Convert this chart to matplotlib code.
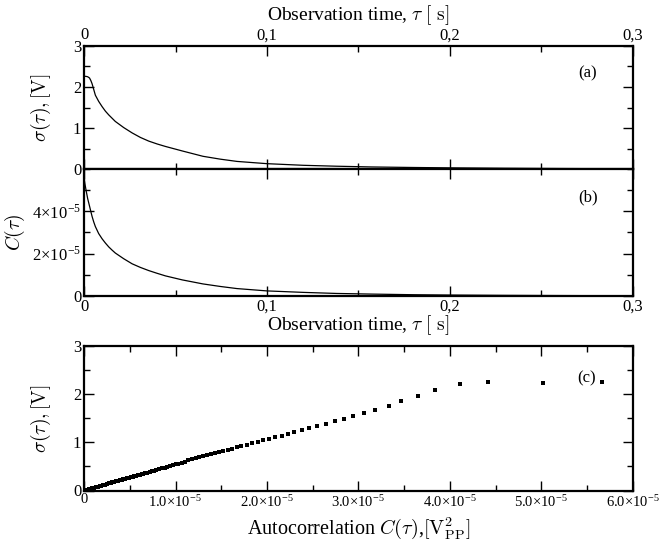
import numpy as np
import matplotlib
matplotlib.use('Agg')
import matplotlib.pyplot as plt
from matplotlib.ticker import MultipleLocator, FixedLocator

plt.rcParams['font.family'] = 'serif'
plt.rcParams['font.serif'] = ['Liberation Serif', 'DejaVu Serif']
plt.rcParams['mathtext.fontset'] = 'cm'

# panels (a) and (b): observation time [s], sigma [V], autocorrelation [1e-5 V^2]
tau = [0, 0.0005, 0.001, 0.002, 0.003, 0.0037, 0.0044, 0.0053, 0.0062, 0.008,
       0.0099, 0.0117, 0.0135, 0.0153, 0.0171, 0.0217, 0.0263, 0.0308, 0.0354,
       0.04, 0.0445, 0.0537, 0.065, 0.0745, 0.0836, 0.1, 0.12, 0.138, 0.157,
       0.18, 0.2, 0.23, 0.26, 0.3]
sigma_tau = [2.26, 2.26, 2.26, 2.25, 2.22, 2.16, 2.08, 1.94, 1.80, 1.65,
             1.52, 1.41, 1.32, 1.24, 1.16, 1.01, 0.88, 0.77, 0.68,
             0.61, 0.55, 0.44, 0.31, 0.24, 0.185, 0.13, 0.09, 0.068, 0.05,
             0.037, 0.028, 0.018, 0.011, 0.005]
c_tau = [5.60, 5.30, 5.05, 4.60, 4.25, 4.00, 3.76, 3.50, 3.28, 2.95,
         2.70, 2.50, 2.32, 2.17, 2.03, 1.76, 1.52, 1.35, 1.20,
         1.07, 0.95, 0.76, 0.57, 0.45, 0.35, 0.24, 0.17, 0.12, 0.09,
         0.06, 0.045, 0.03, 0.02, 0.01]

# panel (c): sigma versus autocorrelation, individual samples
c_pts = [5.66, 5.02, 4.42, 4.11, 3.84, 3.65, 3.46, 3.33, 3.18, 3.06, 2.94, 2.84,
         2.74, 2.64, 2.55, 2.46, 2.38, 2.30, 2.23, 2.16, 2.09, 2.02, 1.96, 1.90,
         1.84, 1.78, 1.72, 1.67, 1.62, 1.57, 1.52, 1.48, 1.43, 1.39, 1.34, 1.30,
         1.26, 1.22, 1.18, 1.14, 1.10, 1.07, 1.03, 1.00, 0.97, 0.94, 0.91, 0.88,
         0.85, 0.82, 0.79, 0.77, 0.74, 0.72, 0.69, 0.67, 0.65, 0.63, 0.61, 0.59,
         0.57, 0.55, 0.53, 0.51, 0.49, 0.47, 0.45, 0.43, 0.41, 0.39, 0.37, 0.35,
         0.33, 0.31, 0.29, 0.27, 0.25, 0.23, 0.21, 0.19, 0.17, 0.15, 0.13, 0.11,
         0.09, 0.07, 0.05, 0.03, 0.01, 0.0]
sigma_pts = [2.25, 2.23, 2.25, 2.21, 2.08, 1.96, 1.85, 1.75, 1.67, 1.60, 1.54, 1.49,
             1.44, 1.39, 1.34, 1.29, 1.26, 1.22, 1.18, 1.14, 1.11, 1.07, 1.04, 1.01,
             0.98, 0.95, 0.93, 0.90, 0.87, 0.84, 0.82, 0.80, 0.78, 0.75, 0.73, 0.71,
             0.69, 0.67, 0.65, 0.63, 0.60, 0.58, 0.56, 0.54, 0.52, 0.51, 0.49, 0.47,
             0.46, 0.44, 0.42, 0.41, 0.40, 0.38, 0.37, 0.36, 0.35, 0.34, 0.33, 0.32,
             0.31, 0.30, 0.29, 0.28, 0.26, 0.25, 0.24, 0.23, 0.22, 0.21, 0.20, 0.19,
             0.18, 0.17, 0.16, 0.15, 0.14, 0.12, 0.11, 0.10, 0.09, 0.08, 0.07, 0.06,
             0.05, 0.04, 0.03, 0.02, 0.01, 0.0]

time_ticks = [0, 0.1, 0.2, 0.3]
time_labels = ['0', '0,1', '0,2', '0,3']
c_ticks = [0, 2e-5, 4e-5]
c_labels = ['0', r'2×10$^{\mathregular{-5}}$', r'4×10$^{\mathregular{-5}}$']
cx_ticks = [0, 1e-5, 2e-5, 3e-5, 4e-5, 5e-5, 6e-5]
cx_labels = ['0'] + [r'%d.0×10$^{\mathregular{-5}}$' % k for k in range(1, 7)]

tau = np.array(tau)
sigma_tau = np.array(sigma_tau)
c_tau = np.array(c_tau) * 1e-5
c_pts = np.array(c_pts) * 1e-5
sigma_pts = np.array(sigma_pts)

fig = plt.figure(figsize=(6.59, 5.45), dpi=100)
L, W = 0.1275, 0.833
ax_a = fig.add_axes([L, 0.6899, W, 0.2257])
ax_b = fig.add_axes([L, 0.4569, W, 0.2330])
ax_c = fig.add_axes([L, 0.1000, W, 0.2651])


def style(ax):
    for s in ax.spines.values():
        s.set_linewidth(1.6)
    ax.tick_params(which='both', direction='in', top=True, right=True,
                   labelsize=12, width=1.0, pad=2)
    ax.tick_params(which='major', length=7.5)
    ax.tick_params(which='minor', length=4.5)


# (a)
ax_a.plot(tau, sigma_tau, color='black', lw=0.9)
ax_a.set_xlim(0, 0.3)
ax_a.set_ylim(0, 3)
style(ax_a)
ax_a.xaxis.set_major_locator(FixedLocator(time_ticks))
ax_a.set_xticklabels(time_labels)
ax_a.xaxis.set_minor_locator(MultipleLocator(0.05))
ax_a.yaxis.set_major_locator(MultipleLocator(1))
ax_a.yaxis.set_minor_locator(MultipleLocator(0.5))
ax_a.tick_params(axis='x', labeltop=True, labelbottom=False)
ax_a.xaxis.set_label_position('top')
ax_a.set_xlabel(r'Observation time, $\tau\ [\ \mathrm{s}]$', fontsize=14, labelpad=5)
ax_a.set_ylabel(r'$\sigma(\tau),[\mathrm{V}]$', fontsize=14, labelpad=14)
ax_a.text(0.918, 0.78, '(a)', transform=ax_a.transAxes, ha='center', va='center', fontsize=12)

# (b)
ax_b.plot(tau, c_tau, color='black', lw=0.9)
ax_b.set_xlim(0, 0.3)
ax_b.set_ylim(0, 6e-5)
style(ax_b)
ax_b.xaxis.set_major_locator(FixedLocator(time_ticks))
ax_b.set_xticklabels(time_labels)
ax_b.xaxis.set_minor_locator(MultipleLocator(0.05))
ax_b.yaxis.set_major_locator(FixedLocator(c_ticks))
ax_b.set_yticklabels(c_labels)
ax_b.yaxis.set_minor_locator(MultipleLocator(1e-5))
ax_b.set_xlabel(r'Observation time, $\tau\ [\ \mathrm{s}]$', fontsize=14, labelpad=-1)
ax_b.set_ylabel(r'$C(\tau)$', fontsize=14, labelpad=4)
ax_b.text(0.918, 0.78, '(b)', transform=ax_b.transAxes, ha='center', va='center', fontsize=12)

# (c)
ax_c.plot(c_pts, sigma_pts, 's', color='black', markersize=2.2, markeredgewidth=0)
ax_c.set_xlim(0, 6e-5)
ax_c.set_ylim(0, 3)
style(ax_c)
ax_c.tick_params(axis='x', labelsize=10.5)
ax_c.xaxis.set_major_locator(FixedLocator(cx_ticks))
ax_c.set_xticklabels(cx_labels)
ax_c.xaxis.set_minor_locator(MultipleLocator(0.5e-5))
ax_c.yaxis.set_major_locator(MultipleLocator(1))
ax_c.yaxis.set_minor_locator(MultipleLocator(0.5))
ax_c.set_xlabel(r'Autocorrelation $C(\tau)$,$[\mathrm{V}_{\mathrm{PP}}^2]$', fontsize=14.5, labelpad=4)
ax_c.set_ylabel(r'$\sigma(\tau),[\mathrm{V}]$', fontsize=14, labelpad=14)
ax_c.text(0.916, 0.774, '(c)', transform=ax_c.transAxes, ha='center', va='center', fontsize=12)

plt.savefig('out.png', dpi=100)
plt.close()
